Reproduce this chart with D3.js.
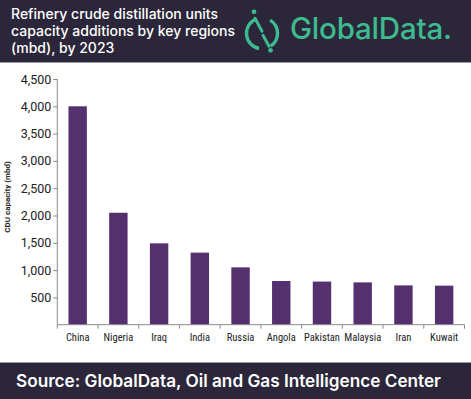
<!DOCTYPE html>
<html><head><meta charset="utf-8">
<script src="https://cdn.jsdelivr.net/npm/d3@7"></script>
<style>
html,body{margin:0;padding:0;background:#fff;}
svg{display:block;}
</style></head>
<body>
<svg id="chart" width="471" height="399"></svg>
<script>
const categories = ["China","Nigeria","Iraq","India","Russia","Angola","Pakistan","Malaysia","Iran","Kuwait"];
const values = [4000, 2050, 1490, 1320, 1050, 800, 790, 775, 720, 715];
const yTicks = [500, 1000, 1500, 2000, 2500, 3000, 3500, 4000, 4500];
const titleLines = ["Refinery crude distillation units","capacity additions by key regions","(mbd), by 2023"];
const sourceText = "Source: GlobalData, Oil and Gas Intelligence Center";
const yAxisTitle = "CDU capacity (mbd)";

const svg = d3.select("#chart");
const W = 471, H = 399;
const headerBg = "#2b2639";
const teal = "#3dba8e";
const barColor = "#55306f";

// header
svg.append("rect").attr("x",0).attr("y",0).attr("width",W).attr("height",62).attr("fill",headerBg);
svg.append("line").attr("x1",0).attr("x2",W).attr("y1",62.5).attr("y2",62.5).attr("stroke","#9a97a3").attr("stroke-width",1);
const tt = svg.append("text").attr("fill","#fff").attr("font-family","Inter, sans-serif").attr("font-weight",500).attr("font-size",14);
titleLines.forEach((t,i)=>{
  tt.append("tspan").attr("x",11).attr("y",18.5+i*17.3).text(t);
});

// logo
const lg = svg.append("g").attr("stroke",teal).attr("fill","none").attr("stroke-width",3.4).attr("stroke-linecap","round");
const cx=262, cy=33.3, r=15.5;
const ring = (a0,a1)=>d3.arc()({innerRadius:r,outerRadius:r,startAngle:a0,endAngle:a1});
lg.append("path").attr("transform",`translate(${cx},${cy})`).attr("d", ring(-2.95,-0.35));
lg.append("path").attr("transform",`translate(${cx},${cy})`).attr("d", ring(0.55,2.55));
lg.append("path").attr("d",`M${cx-7},${cy-15} L${cx},${cy-2}`).attr("stroke-width",3);
lg.append("path").attr("d",`M${cx+1},${cy+2} L${cx+7},${cy+13}`).attr("stroke-width",3);
svg.append("circle").attr("cx",cx-8).attr("cy",cy-21.5).attr("r",2.4).attr("fill",teal);
svg.append("circle").attr("cx",cx+8.5).attr("cy",cy+17).attr("r",2.4).attr("fill",teal);
svg.append("text").attr("x",290).attr("y",39).attr("fill",teal).attr("font-family","Inter, sans-serif")
  .attr("font-weight",500).attr("font-size",29.5).attr("letter-spacing",-0.2).text("GlobalData.");

// chart
const x0 = 57.3, x1 = 464.5, yBase = 324.7, yTop = 79;
const x = d3.scaleBand().domain(categories).range([x0,x1]).paddingInner(0).paddingOuter(0);
const y = d3.scaleLinear().domain([0,4500]).range([yBase,yTop]);
const barW = 18.4;

svg.append("g").selectAll("rect").data(categories).join("rect")
  .attr("x",d=>x(d)+x.bandwidth()/2-barW/2)
  .attr("width",barW)
  .attr("y",(d,i)=>y(values[i]))
  .attr("height",(d,i)=>yBase-y(values[i]))
  .attr("fill",barColor);

const yAxis = svg.append("g").attr("transform",`translate(${x0},0)`)
  .call(d3.axisLeft(y).tickValues(yTicks).tickSize(4).tickPadding(2).tickFormat(d3.format(",")));
yAxis.select(".domain").attr("d",`M0,${yBase}V${yTop}`).attr("stroke","#8a8a8a");
yAxis.selectAll(".tick line").attr("stroke","#8a8a8a");
yAxis.selectAll(".tick text").attr("font-family","Roboto, sans-serif").attr("font-size",12.5).attr("fill","#222");

const xAxis = svg.append("g").attr("transform",`translate(0,${yBase})`)
  .call(d3.axisBottom(x).tickSize(0).tickPadding(9));
xAxis.select(".domain").attr("d",`M${x0},0H${x1}`).attr("stroke","#8a8a8a");
xAxis.selectAll(".tick text").attr("font-family","'Roboto Condensed', 'Liberation Sans Narrow', Roboto, sans-serif").attr("font-size",10.5).attr("fill","#222");
const bounds = categories.map(c=>x(c)).concat([x1]);
xAxis.append("g").selectAll("line").data(bounds).join("line")
  .attr("x1",d=>d).attr("x2",d=>d).attr("y1",0).attr("y2",4).attr("stroke","#8a8a8a");

svg.append("text").attr("transform",`translate(10,197) rotate(-90)`)
  .attr("text-anchor","middle").attr("font-family","Roboto, sans-serif").attr("font-weight",700)
  .attr("font-size",8).attr("fill","#222").text(yAxisTitle);

// footer
svg.append("line").attr("x1",0).attr("x2",W).attr("y1",362.5).attr("y2",362.5).attr("stroke","#9a97a3");
svg.append("rect").attr("x",0).attr("y",363).attr("width",W).attr("height",H-363).attr("fill",headerBg);
svg.append("text").attr("x",16).attr("y",387).attr("fill","#fff").attr("font-family","Inter, sans-serif")
  .attr("font-weight",600).attr("font-size",17.2).text(sourceText);
</script>
</body></html>
